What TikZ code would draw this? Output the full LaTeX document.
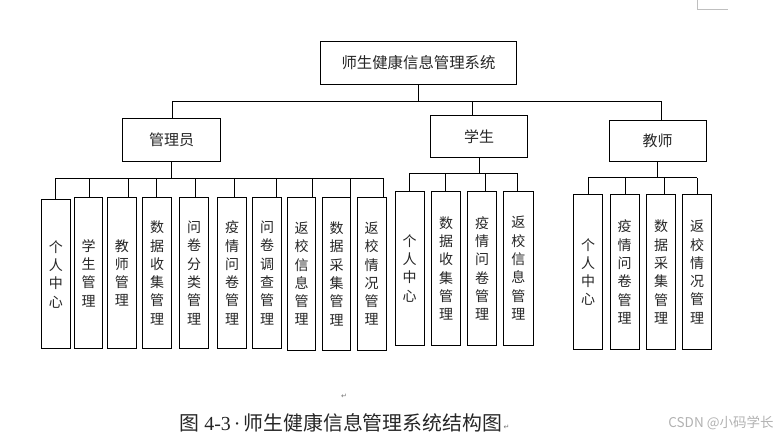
\documentclass[tikz,border=0pt]{standalone}
\usepackage{fontspec}
\newfontfamily\cjk{Noto Sans CJK SC}
\newfontfamily\dejavu{DejaVu Sans}
\newfontfamily\lserif{Liberation Serif}
\begin{document}
\begin{tikzpicture}[x=1pt,y=-1pt, line width=0.9pt,
  box/.style={draw, inner sep=0pt, font=\cjk\fontsize{15}{18}\selectfont, text=black!85},
  child/.style={draw, inner sep=0pt, anchor=north, minimum width=28.5pt, minimum height=151.6pt, align=center, font=\cjk\fontsize{14}{18.3}\selectfont, text=black!85},
  link/.style={draw, line width=0.9pt}]
\useasboundingbox (0,0) rectangle (780,435);
\fill[white] (0,0) rectangle (780,435);

% page corner mark
\draw[black!25, line width=0.8pt] (697.5,0) -- (697.5,9.3) -- (727.5,9.3);

% root and groups
\node[box, minimum width=196pt, minimum height=42.5pt, font=\cjk\fontsize{15.4}{18}\selectfont] (sys) at (418.5,63) {师生健康信息管理系统};
\node[box, minimum width=98pt, minimum height=42.7pt] (adm) at (171.7,139.7) {管理员};
\node[box, minimum width=96.6pt, minimum height=41.7pt] (stu) at (479,136.8) {学生};
\node[box, minimum width=97pt, minimum height=41pt] (tea) at (657.5,140.5) {教师};

% admin children
\node[child, minimum height=149pt] (a1) at (55.85,199.3) {个\\人\\中\\心};
\node[child] (a2) at (88.5,196.7) {学\\生\\管\\理};
\node[child] (a3) at (121.85,196.7) {教\\师\\管\\理};
\node[child, minimum width=29pt] (a4) at (157.2,196.7) {数\\据\\收\\集\\管\\理};
\node[child] (a5) at (194.15,196.7) {问\\卷\\分\\类\\管\\理};
\node[child, minimum width=29pt] (a6) at (232.2,196.7) {疫\\情\\问\\卷\\管\\理};
\node[child, minimum width=29pt] (a7) at (267.2,196.7) {问\\卷\\调\\查\\管\\理};
\node[child, minimum height=153.3pt] (a8) at (301.5,196.7) {返\\校\\信\\息\\管\\理};
\node[child, minimum height=153.3pt] (a9) at (336.5,196.7) {数\\据\\采\\集\\管\\理};
\node[child, minimum height=153.3pt, minimum width=28.7pt] (a10) at (371.65,196.7) {返\\校\\情\\况\\管\\理};

% student children
\node[child, minimum height=154.3pt, minimum width=29pt] (s1) at (409.5,190.7) {个\\人\\中\\心};
\node[child, minimum height=154.3pt, minimum width=29pt] (s2) at (446.2,190.7) {数\\据\\收\\集\\管\\理};
\node[child, minimum height=154.3pt, minimum width=29pt] (s3) at (482.2,190.7) {疫\\情\\问\\卷\\管\\理};
\node[child, minimum height=154.3pt, minimum width=30pt] (s4) at (518.3,190.7) {返\\校\\信\\息\\管\\理};

% teacher children
\node[child, minimum height=154.7pt] (t1) at (588.15,194.3) {个\\人\\中\\心};
\node[child, minimum height=154.7pt, minimum width=29pt] (t2) at (624.5,194.3) {疫\\情\\问\\卷\\管\\理};
\node[child, minimum height=154.7pt, minimum width=29pt] (t3) at (661.2,194.3) {数\\据\\采\\集\\管\\理};
\node[child, minimum height=154.7pt, minimum width=29.4pt] (t4) at (697,194.3) {返\\校\\情\\况\\管\\理};

% bus levels
\coordinate (tb) at (418,101.3);
\coordinate (ab) at (171.7,178.3);
\coordinate (sb) at (479,173.3);
\coordinate (tcb) at (657.3,177.7);

% top level
\path ([xshift=0.8pt]adm.north) coordinate (admT)
      ([xshift=-6.5pt]stu.north) coordinate (stuT)
      ([xshift=4pt]tea.north) coordinate (teaT);
\draw[link] (sys.south) -- (sys.south |- tb);
\draw[link] (admT |- tb) -- (teaT |- tb);
\draw[link] (admT) -- (admT |- tb);
\draw[link] (stuT) -- (stuT |- tb);
\draw[link] (teaT) -- (teaT |- tb);

% group stems
\draw[link] (adm.south) -- (adm.south |- ab);
\draw[link] (stu.south) -- (stu.south |- sb);
\draw[link] (tea.south) -- (tea.south |- tcb);

% drops
\foreach \n/\d in {a1/-0.85, a2/0.5, a3/6.45, a4/-0.5, a5/1.55, a6/2.1, a7/9.5, a8/11.2, a9/13.5, a10/11.65}{
  \path ([xshift=\d pt]\n.north) coordinate (d\n);
  \draw[link] (d\n) -- (d\n |- ab);
}
\foreach \n/\d in {s1/-0.2, s2/-0.5, s3/2.8, s4/-0.6}{
  \path ([xshift=\d pt]\n.north) coordinate (d\n);
  \draw[link] (d\n) -- (d\n |- sb);
}
\foreach \n/\d in {t1/0.15, t2/0.5, t3/3.1, t4/0.3}{
  \path ([xshift=\d pt]\n.north) coordinate (d\n);
  \draw[link] (d\n) -- (d\n |- tcb);
}
\draw[link] (da1 |- ab) -- (da10 |- ab);
\draw[link] (ds1 |- sb) -- (ds4 |- sb);
\draw[link] (dt1 |- tcb) -- (dt4 |- tcb);

% caption
\node[font=\dejavu\fontsize{7}{8}\selectfont, text=black!55, inner sep=0pt] (pm) at (344,396) {↵};
\node[anchor=west, inner sep=0pt, font=\cjk\fontsize{19.9}{20}\selectfont, text=black!85] (cap) at (179,423) {图\hspace{5pt}{\lserif 4-3}\hspace{3pt}{\lserif ·}\hspace{3pt}师生健康信息管理系统结构图};
\node[anchor=west, inner sep=0.5pt, font=\dejavu\fontsize{7}{8}\selectfont, text=black!55] (capm) at ([yshift=-4pt]cap.east) {↵};

% watermark
\node[anchor=east, inner sep=0pt, font=\cjk\fontsize{13.5}{14}\selectfont, text=black!30] (wm) at (774,423) {CSDN @小码学长};
\end{tikzpicture}
\end{document}
